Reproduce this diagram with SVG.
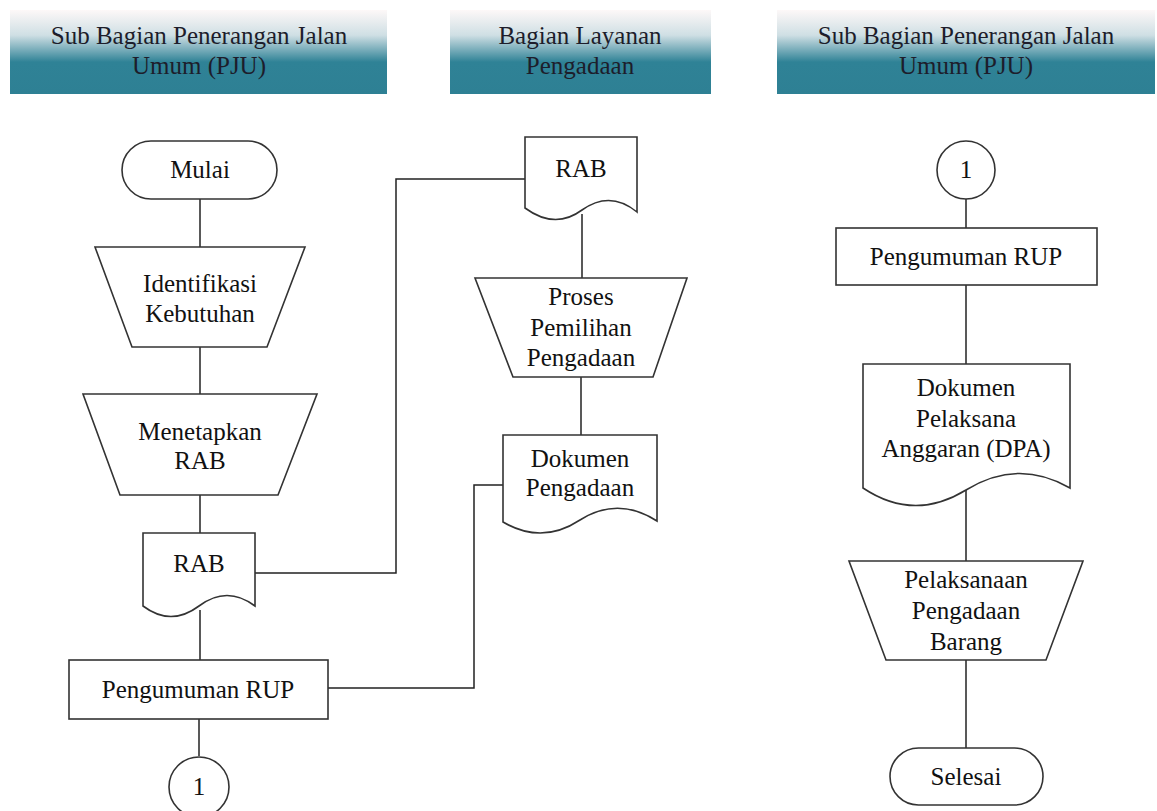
<svg xmlns="http://www.w3.org/2000/svg" width="1157" height="811" viewBox="0 0 1157 811">
<defs>
<linearGradient id="hdr" x1="0" y1="0" x2="0" y2="1">
<stop offset="0" stop-color="#fdf8f8"/>
<stop offset="0.3" stop-color="#cfdfe4"/>
<stop offset="0.62" stop-color="#2f8296"/>
<stop offset="1" stop-color="#2e8094"/>
</linearGradient>
</defs>
<style>
.hdr{fill:url(#hdr);stroke:none}
.ht{font-family:'Liberation Serif','DejaVu Serif',serif;font-size:25px;fill:#1d1d2b;text-anchor:middle}
.s{fill:#fff;stroke:#333;stroke-width:1.6}
.t{font-family:'Liberation Serif','DejaVu Serif',serif;font-size:25px;fill:#111;text-anchor:middle}
.c{fill:none;stroke:#222;stroke-width:1.5}
</style>
<rect width="1157" height="811" fill="#fff"/>
<g id="headers">
<g id="h1"><rect class="hdr" x="10" y="10" width="377" height="84"/><text class="ht" x="199" y="44" font-family="Liberation Serif, serif">Sub Bagian Penerangan Jalan</text><text class="ht" x="199" y="74">Umum (PJU)</text></g>
<g id="h2"><rect class="hdr" x="450" y="10" width="261" height="84"/><text class="ht" x="580" y="44">Bagian Layanan</text><text class="ht" x="580" y="74">Pengadaan</text></g>
<g id="h3"><rect class="hdr" x="777" y="10" width="378" height="84"/><text class="ht" x="966" y="44">Sub Bagian Penerangan Jalan</text><text class="ht" x="966" y="74">Umum (PJU)</text></g>
</g>
<g id="connectors">
<path class="c" d="M200,199 V247"/>
<path class="c" d="M200,347 V394"/>
<path class="c" d="M200,495 V533"/>
<path class="c" d="M200,610 V660"/>
<path class="c" d="M199,719 V756"/>
<path class="c" d="M255,573 H396 V179 H525"/>
<path class="c" d="M582,214 V278"/>
<path class="c" d="M581,377 V435"/>
<path class="c" d="M328,688 H474 V485 H503"/>
<path class="c" d="M966,199 V228"/>
<path class="c" d="M966,285 V364"/>
<path class="c" d="M966,490 V561"/>
<path class="c" d="M966,660 V748"/>
</g>
<g id="mulai"><rect class="s" x="122" y="141" width="155" height="58" rx="29"/><text class="t" x="200" y="178">Mulai</text></g>
<g id="identifikasi"><path class="s" d="M95,247 H305 L267,347 H132 Z"/><text class="t" x="200" y="292">Identifikasi</text><text class="t" x="200" y="322">Kebutuhan</text></g>
<g id="menetapkan"><path class="s" d="M83,394 H317 L278,495 H120 Z"/><text class="t" x="200" y="440">Menetapkan</text><text class="t" x="200" y="469">RAB</text></g>
<g id="rab1"><path class="s" d="M143,533 H255 V606 Q227,585 199,606 Q171,627 143,606 Z"/><text class="t" x="199" y="572">RAB</text></g>
<g id="pengumuman1"><rect class="s" x="69" y="660" width="259" height="59"/><text class="t" x="198" y="698">Pengumuman RUP</text></g>
<g id="conn1a"><circle class="s" cx="199" cy="787" r="30"/><text class="t" x="199" y="795">1</text></g>
<g id="rab2"><path class="s" d="M525,137 H637 V212 Q610,190 582,210 Q555,230 525,208 Z"/><text class="t" x="581" y="177">RAB</text></g>
<g id="proses"><path class="s" d="M475,278 H687 L653,377 H513 Z"/><text class="t" x="581" y="305">Proses</text><text class="t" x="581" y="336">Pemilihan</text><text class="t" x="581" y="366">Pengadaan</text></g>
<g id="dokumen"><path class="s" d="M503,435 H657 V521 Q618,496 580,520 Q542,545 503,522 Z"/><text class="t" x="580" y="467">Dokumen</text><text class="t" x="580" y="496">Pengadaan</text></g>
<g id="conn1b"><circle class="s" cx="966" cy="170" r="29"/><text class="t" x="966" y="178">1</text></g>
<g id="pengumuman2"><rect class="s" x="836" y="228" width="261" height="57"/><text class="t" x="966" y="265">Pengumuman RUP</text></g>
<g id="dpa"><path class="s" d="M863,364 H1070 V488 Q1018,458 966,490 Q914,522 863,488 Z"/><text class="t" x="966" y="396">Dokumen</text><text class="t" x="966" y="427">Pelaksana</text><text class="t" x="966" y="457">Anggaran (DPA)</text></g>
<g id="pelaksanaan"><path class="s" d="M849,561 H1083 L1046,660 H886 Z"/><text class="t" x="966" y="588">Pelaksanaan</text><text class="t" x="966" y="619">Pengadaan</text><text class="t" x="966" y="650">Barang</text></g>
<g id="selesai"><rect class="s" x="890" y="748" width="153" height="57" rx="28.5"/><text class="t" x="966" y="785">Selesai</text></g>
</svg>
